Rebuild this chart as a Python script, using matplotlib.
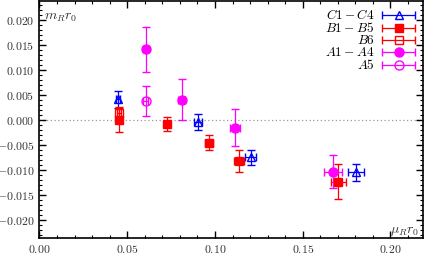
import matplotlib
matplotlib.use("Agg")
import matplotlib.pyplot as plt
import numpy as np
from matplotlib.ticker import MultipleLocator
from matplotlib.legend_handler import HandlerErrorbar

plt.rcParams['font.family'] = 'serif'
plt.rcParams['font.serif'] = ['cmr10', 'DejaVu Serif']
plt.rcParams['mathtext.fontset'] = 'cm'

# C1 - C4
c_x = [0.0447, 0.0904, 0.1203, 0.1803]
c_y = [0.0042, -0.0004, -0.0075, -0.0105]
c_xe = [0.0011, 0.0022, 0.0030, 0.0044]
c_ye = [0.0017, 0.0016, 0.0015, 0.0017]

# B1 - B5
b_x = [0.0453, 0.0728, 0.0966, 0.1137, 0.1703]
b_y = [0.0001, -0.0007, -0.0045, -0.0083, -0.0124]
b_xe = [0.0011, 0.0018, 0.0024, 0.0028, 0.0042]
b_ye = [0.0024, 0.0014, 0.0015, 0.0022, 0.0035]

# B6
b6_x = [0.0453]
b6_y = [0.0015]
b6_xe = [0.0011]
b6_ye = [0.0011]

# A1 - A4
a_x = [0.0605, 0.0810, 0.1114, 0.1674]
a_y = [0.0142, 0.0041, -0.0015, -0.0104]
a_xe = [0.0015, 0.0020, 0.0030, 0.0050]
a_ye = [0.0045, 0.0041, 0.0037, 0.0033]

# A5
a5_x = [0.0605]
a5_y = [0.0038]
a5_xe = [0.0015]
a5_ye = [0.0030]

series = [
    (c_x, c_y, c_xe, c_ye, '#0000ff', '^', 5.5, 'none', '$C1-C4$'),
    (b_x, b_y, b_xe, b_ye, '#ff0000', 's', 6.0, '#ff0000', '$B1-B5$'),
    (b6_x, b6_y, b6_xe, b6_ye, '#ff0000', 's', 5.5, 'none', '$B6$'),
    (a_x, a_y, a_xe, a_ye, '#ff00ff', 'o', 6.5, '#ff00ff', '$A1-A4$'),
    (a5_x, a5_y, a5_xe, a5_ye, '#ff00ff', 'o', 6.5, 'none', '$A5$'),
]

fig = plt.figure(figsize=(4.27, 2.57), dpi=100)
ax = fig.add_axes([0.0925, 0.074, 0.898, 0.922])

ax.axhline(0, color='#999999', ls=(0, (1, 2)), lw=0.9, zorder=0)

kw = dict(ls='none', elinewidth=0.9, capsize=3, capthick=0.9, mew=1.0)
handles = []
for x, y, xe, ye, col, mk, ms, mfc, lab in series:
    ax.errorbar(x, y, xerr=xe, yerr=ye, color=col, marker=mk, ms=ms, mfc=mfc, **kw)
    # legend proxy: horizontal bar only
    h = ax.errorbar([np.nan], [np.nan], xerr=[1], color=col, marker=mk, ms=ms,
                    mfc=mfc, label=lab, **kw)
    handles.append(h)

ax.set_xlim(0, 0.2185)
ax.set_ylim(-0.0236, 0.0238)
ax.xaxis.set_major_locator(MultipleLocator(0.05))
ax.xaxis.set_minor_locator(MultipleLocator(0.01))
ax.yaxis.set_major_locator(MultipleLocator(0.005))
ax.yaxis.set_minor_locator(MultipleLocator(0.001))
ax.xaxis.set_major_formatter(lambda v, p: f"${v:.2f}$")
ax.yaxis.set_major_formatter(lambda v, p: f"${v:.3f}$")
ax.tick_params(which='both', direction='in', top=True, right=True, labelsize=8.5,
               colors='black', labelcolor='#333333')
ax.tick_params(which='major', length=5, width=1)
ax.tick_params(which='minor', length=2.5, width=0.8)
for s in ax.spines.values():
    s.set_linewidth(1.2)

ax.text(0.012, 0.92, r'$m_R r_0$', transform=ax.transAxes, fontsize=10, color='#333333')
ax.text(0.915, 0.02, r'$\mu_R r_0$', transform=ax.transAxes, fontsize=10, color='#333333')

hm = {h: HandlerErrorbar(xerr_size=1.25) for h in handles}
ax.legend(handles=handles, handler_map=hm, loc='upper right', frameon=False,
          markerfirst=False, fontsize=9.5, handlelength=2.6, labelspacing=-0.08,
          borderaxespad=0.15, handletextpad=0.5, handleheight=0.5)

fig.savefig('out.png', dpi=100)
